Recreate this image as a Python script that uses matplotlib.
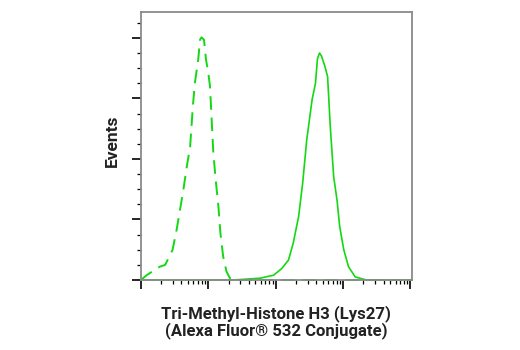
import matplotlib
matplotlib.use('Agg')
import matplotlib.pyplot as plt
import numpy as np

# Histogram traces, x as log10 of fluorescence intensity, y in event units
isotype_log = [0.0, 0.085, 0.28, 0.36, 0.47, 0.53, 0.58, 0.63, 0.68, 0.73, 0.75, 0.77,
               0.80, 0.85, 0.877, 0.90, 0.936, 0.966, 1.0, 1.025, 1.05, 1.075, 1.11,
               1.15, 1.18, 1.22, 1.27, 1.32, 1.42, 2.0, 3.0, 4.02]
isotype_events = [0.0, 0.08, 0.22, 0.25, 0.5, 0.83, 1.16, 1.49, 1.87, 2.2, 2.53, 2.86,
                  3.25, 3.64, 3.97, 4.01, 3.97, 3.64, 3.42, 3.2, 2.64, 2.09, 1.65,
                  1.21, 0.77, 0.39, 0.14, 0.03, 0.0, 0.0, 0.0, 0.0]

stained_log = [0.0, 1.0, 1.37, 1.77, 1.97, 2.09, 2.19, 2.26, 2.34, 2.40, 2.46, 2.54,
               2.59, 2.62, 2.65, 2.68, 2.73, 2.77, 2.81, 2.86, 2.91, 2.95, 3.01,
               3.08, 3.18, 3.35, 4.02]
stained_events = [0.0, 0.0, 0.0, 0.03, 0.08, 0.19, 0.33, 0.61, 1.05, 1.60, 2.31, 2.98,
                  3.25, 3.66, 3.75, 3.70, 3.53, 3.36, 2.53, 1.71, 1.32, 0.88, 0.50,
                  0.22, 0.05, 0.0, 0.0]

green = '#14d814'
label_font = ['Roboto', 'DejaVu Sans']

fig = plt.figure(figsize=(5.2, 3.5), dpi=100)
ax = fig.add_axes([0.271, 0.2, 0.521, 0.766])

ax.plot(10 ** np.array(isotype_log), isotype_events, color=green, lw=1.4,
        linestyle=(0, (7, 4)), clip_on=False)
ax.plot(10 ** np.array(stained_log), stained_events, color=green, lw=1.2,
        clip_on=False)

ax.set_xscale('log')
ax.set_xlim(1, 10 ** 4.02)
ax.set_ylim(0, 4.43)

ax.set_xticks([1, 10, 100, 1000, 10000])
ax.set_yticks([0, 1, 2, 3, 4])
ax.set_yticks(np.arange(0, 4.4, 0.25), minor=True)
ax.set_xticklabels([])
ax.set_yticklabels([])
ax.xaxis.set_minor_formatter(matplotlib.ticker.NullFormatter())

ax.tick_params(which='major', direction='out', length=6.5, width=1.2, color='black')
ax.tick_params(which='minor', direction='out', length=3, width=0.9, color='black')

for side in ax.spines.values():
    side.set_color('#8a8a8a')
    side.set_linewidth(1.3)

ax.set_ylabel('Events', family=label_font, fontweight='bold', fontsize=12.5,
              color='#222222', labelpad=5)
ax.yaxis.label.set_y(0.52)
ax.set_xlabel('Tri-Methyl-Histone H3 (Lys27)\n(Alexa Fluor® 532 Conjugate)',
              family=label_font, fontweight='bold', fontsize=12, color='#222222',
              labelpad=8, linespacing=1.0)

fig.savefig('out.png', dpi=100)
